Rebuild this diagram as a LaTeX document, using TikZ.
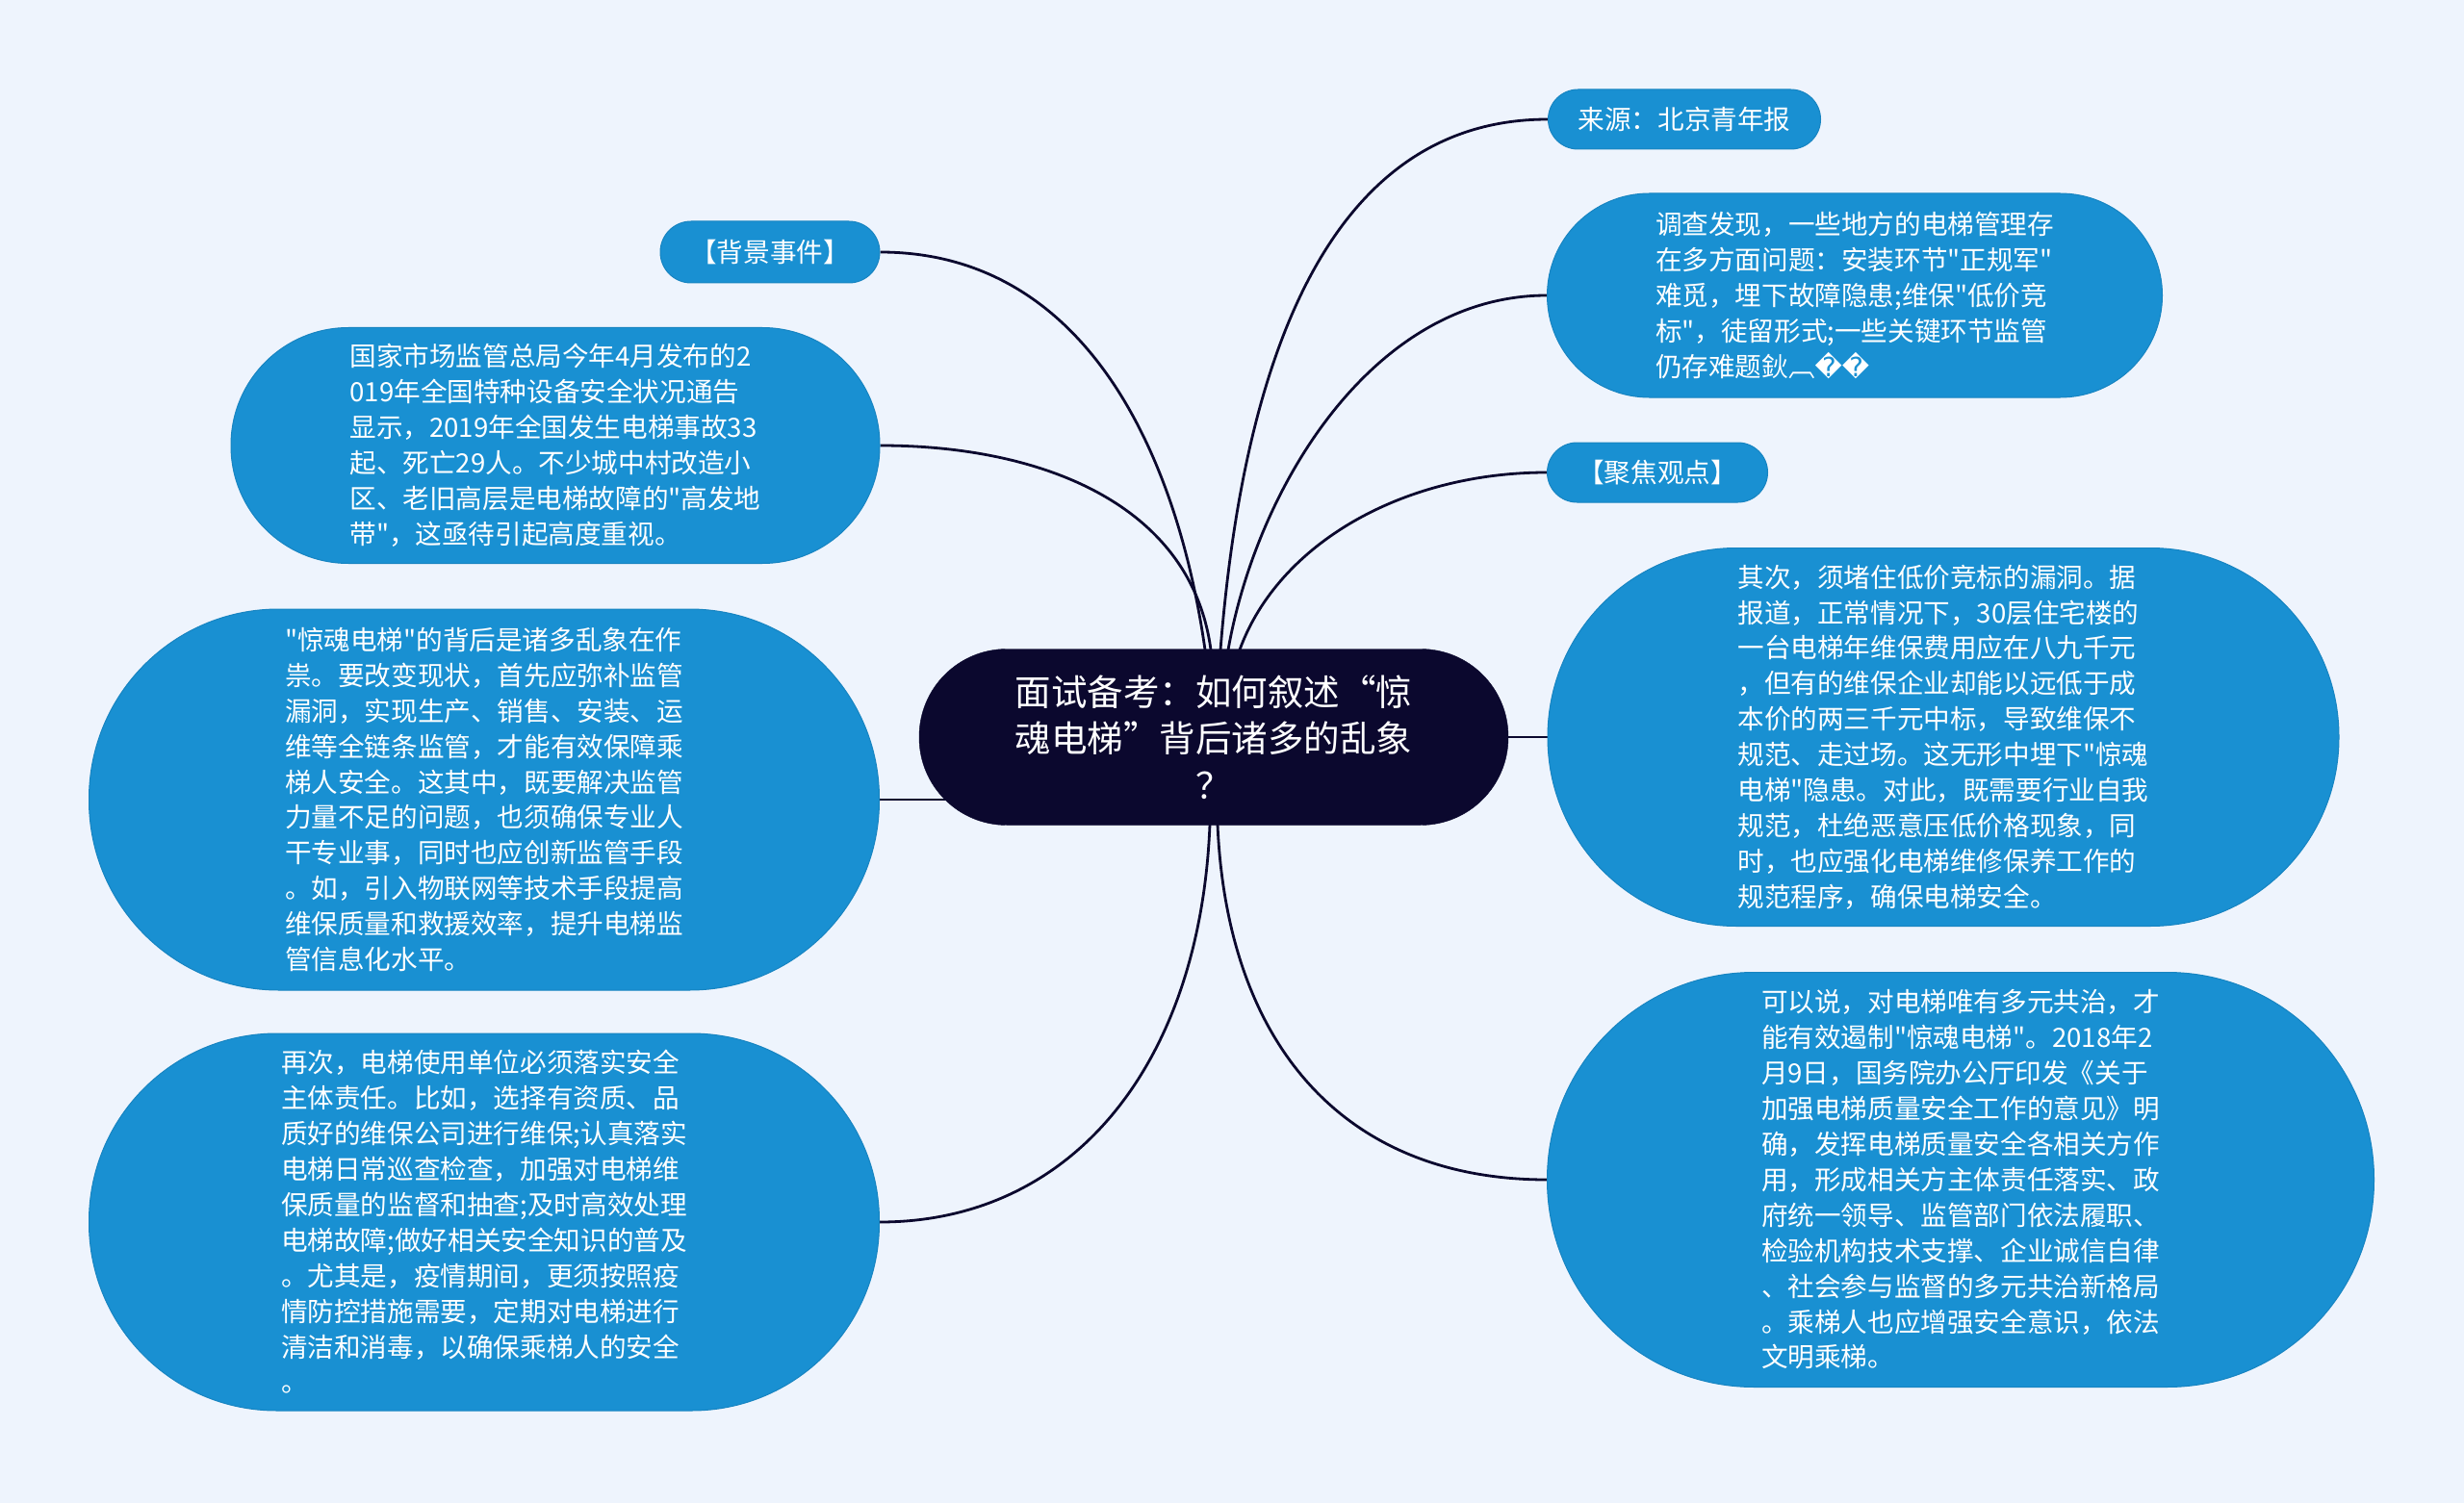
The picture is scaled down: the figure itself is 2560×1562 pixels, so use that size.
\documentclass[tikz,border=0pt]{standalone}
\usepackage{fontspec}
\setmainfont{Noto Sans CJK SC}[Ligatures=TeXOff]
\newfontfamily\symfont{DejaVu Sans}
\usetikzlibrary{calc}
\definecolor{bgc}{RGB}{238,244,253}
\definecolor{nodeblue}{RGB}{25,144,210}
\definecolor{navy}{RGB}{11,8,46}
\pgfdeclarelayer{bg}
\pgfsetlayers{bg,main}
\begin{document}
\begin{tikzpicture}[x=1pt,y=-1pt,
  bubble/.style n args={3}{draw=nodeblue!92!black, line width=1pt, fill=nodeblue, text=white,
    minimum width=#1, minimum height=#2, rounded corners=#3, inner sep=0pt, align=left,
    font=\fontsize{27.6}{36.9}\selectfont},
  rootnode/.style={fill=navy, draw=navy, text=white, minimum width=612, minimum height=183,
    rounded corners=91, inner sep=0pt, align=center, font=\fontsize{37.5}{48.5}\selectfont},
  link/.style={draw=navy, line width=2.8pt}]

\node[rootnode] (root) at (1261,766) {面试备考：如何叙述“惊\\魂电梯”背后诸多的乱象\\？};

% right side
\node[bubble={283}{62}{31}] (src) at (1750,124) {来源：北京青年报};
\node[bubble={639}{212}{106}] (inv) at (1927,307) {调查发现，一些地方的电梯管理存\\在多方面问题：安装环节"正规军"\\难觅，埋下故障隐患;维保"低价竞\\标"，徒留形式;一些关键环节监管\\仍存难题鈥︹{\symfont ��}};
\node[bubble={229}{62}{31}] (focus) at (1722,491) {【聚焦观点】};
\node[bubble={822}{393}{196}] (second) at (2019,766) {其次，须堵住低价竞标的漏洞。据\\报道，正常情况下，30层住宅楼的\\一台电梯年维保费用应在八九千元\\，但有的维保企业却能以远低于成\\本价的两三千元中标，导致维保不\\规范、走过场。这无形中埋下"惊魂\\电梯"隐患。对此，既需要行业自我\\规范，杜绝恶意压低价格现象，同\\时，也应强化电梯维修保养工作的\\规范程序，确保电梯安全。};
\node[bubble={859}{431}{215}] (gov) at (2037,1226) {可以说，对电梯唯有多元共治，才\\能有效遏制"惊魂电梯"。2018年2\\月9日，国务院办公厅印发《关于\\加强电梯质量安全工作的意见》明\\确，发挥电梯质量安全各相关方作\\用，形成相关方主体责任落实、政\\府统一领导、监管部门依法履职、\\检验机构技术支撑、企业诚信自律\\、社会参与监督的多元共治新格局\\。乘梯人也应增强安全意识，依法\\文明乘梯。};

% left side
\node[bubble={228}{64}{32}] (back) at (800,262) {【背景事件】};
\node[bubble={674}{245}{122}] (stat) at (577,463) {国家市场监管总局今年4月发布的2\\019年全国特种设备安全状况通告\\显示，2019年全国发生电梯事故33\\起、死亡29人。不少城中村改造小\\区、老旧高层是电梯故障的"高发地\\带"，这亟待引起高度重视。};
\node[bubble={821}{396}{197}] (chaos) at (503,831) {"惊魂电梯"的背后是诸多乱象在作\\祟。要改变现状，首先应弥补监管\\漏洞，实现生产、销售、安装、运\\维等全链条监管，才能有效保障乘\\梯人安全。这其中，既要解决监管\\力量不足的问题，也须确保专业人\\干专业事，同时也应创新监管手段\\。如，引入物联网等技术手段提高\\维保质量和救援效率，提升电梯监\\管信息化水平。};
\node[bubble={821}{392}{195}] (third) at (503,1270) {再次，电梯使用单位必须落实安全\\主体责任。比如，选择有资质、品\\质好的维保公司进行维保;认真落实\\电梯日常巡查检查，加强对电梯维\\保质量的监督和抽查;及时高效处理\\电梯故障;做好相关安全知识的普及\\。尤其是，疫情期间，更须按照疫\\情防控措施需要，定期对电梯进行\\清洁和消毒，以确保乘梯人的安全\\。};

\begin{pgfonlayer}{bg}
\fill[bgc] (0,0) rectangle (2560,1562);
\draw[link] ($(root.north)+(-9,1)$) .. controls +(-30,-210) and +(210,0) .. (back.east);
\draw[link] ($(root.north)+(-3,1)$) .. controls +(-20,-150) and +(170,0) .. (stat.east);
\draw[link] ($(root.north)+(7,1)$) .. controls +(20,-250) and +(-250,0) .. (src.west);
\draw[link] ($(root.north)+(15,1)$) .. controls +(30,-170) and +(-180,0) .. (inv.west);
\draw[link] ($(root.north)+(27,1)$) .. controls +(40,-110) and +(-150,0) .. (focus.west);
\draw[link] (root.east) -- (second.west);
\draw[link] (chaos.east) -- (chaos.east -| root.center);
\draw[link] ($(root.south)+(-4,-1)$) .. controls +(-10,250) and +(200,0) .. (third.east);
\draw[link] ($(root.south)+(4,-1)$) .. controls +(10,230) and +(-210,0) .. (gov.west);
\end{pgfonlayer}
\end{tikzpicture}
\end{document}
